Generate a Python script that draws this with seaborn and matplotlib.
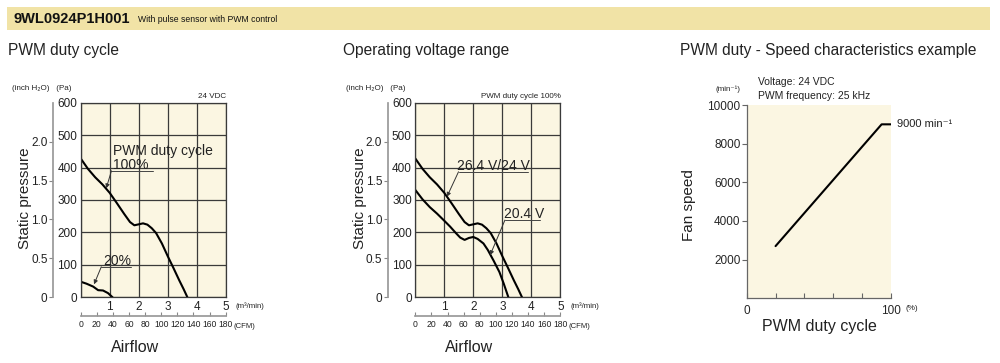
import matplotlib
matplotlib.use("Agg")
import matplotlib.pyplot as plt
import pandas as pd
import seaborn as sns
from matplotlib import font_manager
from matplotlib.patches import Rectangle

# ---- data ----
FLOW_24V = [0, 0.25, 0.5, 0.75, 1.0, 1.25, 1.5, 1.7, 1.85, 2.0, 2.15, 2.3, 2.45, 2.6, 2.8, 3.0, 3.2, 3.4, 3.55, 3.68]
PA_24V = [428, 396, 370, 348, 322, 290, 257, 232, 222, 225, 228, 224, 213, 198, 166, 127, 90, 52, 25, 0]

FLOW_20PCT = [0, 0.2, 0.43, 0.6, 0.77, 0.94, 1.1]
PA_20PCT = [48, 42, 33, 22, 21, 13, 0]

FLOW_204V = [0, 0.25, 0.5, 0.75, 1.0, 1.2, 1.4, 1.55, 1.7, 1.85, 2.0, 2.15, 2.35, 2.5, 2.7, 2.9, 3.05, 3.21]
PA_204V = [331, 302, 278, 258, 236, 218, 198, 184, 177, 183, 186, 180, 166, 146, 113, 78, 42, 0]

DUTY = [20, 93.5, 100]
SPEED = [2700, 9000, 9000]

PA_TICKS = [0, 100, 200, 300, 400, 500, 600]
FLOW_TICKS = [0, 1, 2, 3, 4, 5]
CFM_TICKS = [0, 20, 40, 60, 80, 100, 120, 140, 160, 180]
INCH_TICKS = [0, 0.5, 1.0, 1.5, 2.0]
INCH_LABELS = ["0", "0.5", "1.0", "1.5", "2.0"]
SPEED_TICKS = [2000, 4000, 6000, 8000, 10000]

PA_PER_INCH = 240
CFM_PER_M3 = 36

W, H = 1000, 363
CREAM = "#FBF6E2"
BANNER = "#F1E3A6"
GRID = "#3a3a3a"

sns.set_theme(style="white")
names = {f.name for f in font_manager.fontManager.ttflist}
NUM = "Liberation Sans Narrow" if "Liberation Sans Narrow" in names else "Liberation Sans"
plt.rcParams["font.family"] = ["Liberation Sans", "DejaVu Sans"]


def px_axes(fig, x0, y0, x1, y1):
    return fig.add_axes([x0 / W, 1 - y1 / H, (x1 - x0) / W, (y1 - y0) / H])


def ftext(fig, x, y, s, **kw):
    kw.setdefault("va", "center")
    kw.setdefault("color", "#222222")
    return fig.text(x / W, 1 - y / H, s, **kw)


def leader(ax, tip, elbow, end):
    ax.plot([elbow[0], end], [elbow[1], elbow[1]], color="#444444", lw=0.7)
    ax.annotate("", xy=tip, xytext=elbow,
                arrowprops=dict(arrowstyle="-|>", color="#333333", lw=0.7,
                                mutation_scale=6, shrinkA=0, shrinkB=0))


def pq_axes(fig, x0, label_x):
    ax = px_axes(fig, x0, 102.7, x0 + 145, 297.3)
    ax.set_facecolor(CREAM)
    ax.set_xlim(0, 5)
    ax.set_ylim(0, 600)
    ax.set_xticks(FLOW_TICKS)
    ax.set_xticklabels([""] + [str(t) for t in FLOW_TICKS[1:]], fontfamily=NUM, fontsize=8.5)
    ax.set_yticks(PA_TICKS)
    ax.set_yticklabels([str(t) for t in PA_TICKS], fontfamily=NUM, fontsize=8.5)
    ax.tick_params(length=0, pad=2.5, colors="#222222")
    ax.grid(True, color=GRID, lw=0.9)
    for sp in ax.spines.values():
        sp.set_color(GRID)
        sp.set_linewidth(0.9)

    inch = ax.secondary_yaxis(-0.19, functions=(lambda p: p / PA_PER_INCH, lambda i: i * PA_PER_INCH))
    inch.set_yticks(INCH_TICKS)
    inch.set_yticklabels(INCH_LABELS, fontfamily=NUM, fontsize=8.5)
    inch.spines["left"].set_color("#999999")
    inch.tick_params(length=3, width=0.8, color="#888888", pad=1, labelcolor="#222222")

    cfm = ax.secondary_xaxis(-0.096, functions=(lambda m: m * CFM_PER_M3, lambda c: c / CFM_PER_M3))
    cfm.set_xticks(CFM_TICKS)
    cfm.set_xticklabels([str(t) for t in CFM_TICKS], fontfamily=NUM, fontsize=6.2)
    cfm.spines["bottom"].set_color("#999999")
    cfm.tick_params(direction="in", length=3, width=0.8, color="#888888", pad=3, labelcolor="#222222")

    ftext(fig, x0 - 69, 88, "(inch H\u2082O)   (Pa)", fontsize=5.8, family=["Liberation Sans", "DejaVu Sans"])
    ftext(fig, x0 + 155, 306, "(m\u00b3/min)", fontsize=5.6, ha="left")
    ftext(fig, x0 + 153, 326, "(CFM)", fontsize=5.6, ha="left")
    ftext(fig, label_x, 198, "Static pressure", fontsize=11, rotation=90, ha="center")
    ftext(fig, x0 + 54, 347, "Airflow", fontsize=11.5, ha="center")
    return ax


def main() -> None:
    fig = plt.figure(figsize=(W / 100, H / 100), dpi=100)
    fig.patch.set_facecolor("white")

    fig.add_artist(Rectangle((7 / W, 1 - 30 / H), 983 / W, 23 / H, transform=fig.transFigure,
                             facecolor=BANNER, edgecolor="none"))
    ftext(fig, 13, 19, "9WL0924P1H001", fontsize=10.5, fontweight="bold", color="#111111")
    ftext(fig, 138, 20, "With pulse sensor with PWM control", fontsize=6.2, color="#111111")

    ftext(fig, 8, 50, "PWM duty cycle", fontsize=11.2)
    ftext(fig, 343, 50, "Operating voltage range", fontsize=11.2)
    ftext(fig, 680, 50, "PWM duty - Speed characteristics example", fontsize=11.2)

    # left: PWM duty cycle
    ax1 = pq_axes(fig, 80.7, 25)
    df100 = pd.DataFrame({"flow": FLOW_24V, "pa": PA_24V})
    df20 = pd.DataFrame({"flow": FLOW_20PCT, "pa": PA_20PCT})
    sns.lineplot(data=df100, x="flow", y="pa", ax=ax1, color="black", lw=1.5, sort=False, estimator=None)
    sns.lineplot(data=df20, x="flow", y="pa", ax=ax1, color="black", lw=1.5, sort=False, estimator=None)
    ax1.set_xlabel("")
    ax1.set_ylabel("")
    ax1.text(1.11, 438, "PWM duty cycle", fontsize=10, va="baseline", color="#222222")
    ax1.text(1.11, 395, "100%", fontsize=10, va="baseline", color="#222222")
    leader(ax1, (0.88, 336), (1.06, 390), 2.49)
    ax1.text(0.77, 99, "20%", fontsize=10, va="baseline", color="#222222")
    leader(ax1, (0.46, 40), (0.71, 94), 1.75)
    ftext(fig, 226, 97, "24 VDC", fontsize=5.8, ha="right")

    # middle: operating voltage range
    ax2 = pq_axes(fig, 415.3, 360)
    df204 = pd.DataFrame({"flow": FLOW_204V, "pa": PA_204V})
    sns.lineplot(data=df100, x="flow", y="pa", ax=ax2, color="black", lw=1.5, sort=False, estimator=None)
    sns.lineplot(data=df204, x="flow", y="pa", ax=ax2, color="black", lw=1.5, sort=False, estimator=None)
    ax2.set_xlabel("")
    ax2.set_ylabel("")
    ax2.text(1.45, 392, "26.4 V/24 V", fontsize=10, va="baseline", color="#222222")
    leader(ax2, (1.09, 310), (1.49, 387), 3.9)
    ax2.text(3.06, 243, "20.4 V", fontsize=10, va="baseline", color="#222222")
    leader(ax2, (2.58, 130), (3.09, 238), 4.3)
    ftext(fig, 561, 97, "PWM duty cycle 100%", fontsize=5.8, ha="right")

    # right: duty - speed
    ax3 = px_axes(fig, 746.7, 105, 891, 298.3)
    ax3.set_facecolor(CREAM)
    dfs = pd.DataFrame({"duty": DUTY, "speed": SPEED})
    sns.lineplot(data=dfs, x="duty", y="speed", ax=ax3, color="black", lw=1.5, sort=False, estimator=None)
    ax3.set_xlabel("")
    ax3.set_ylabel("")
    ax3.set_xlim(0, 100)
    ax3.set_ylim(0, 10000)
    ax3.set_yticks(SPEED_TICKS)
    ax3.set_yticklabels([str(t) for t in SPEED_TICKS], fontfamily=NUM, fontsize=8.5)
    ax3.set_xticks([0, 20, 40, 60, 80, 100])
    ax3.set_xticklabels(["0", "", "", "", "", "100"], fontfamily=NUM, fontsize=8.5)
    ax3.tick_params(axis="y", direction="out", length=3.5, width=0.8, color="#666666", pad=1, left=True)
    ax3.tick_params(axis="x", direction="in", length=3.5, width=0.8, color="#666666", pad=5, bottom=True)
    for side in ("top", "right"):
        ax3.spines[side].set_visible(False)
    for side in ("left", "bottom"):
        ax3.spines[side].set_color("#666666")
        ax3.spines[side].set_linewidth(0.9)
    ax3.text(104, 9000, "9000 min\u207b\u00b9", fontsize=8, va="center", clip_on=False,
             family=[NUM, "DejaVu Sans"], color="#222222")
    ftext(fig, 906, 309, "(%)", fontsize=5.8, ha="left")
    ftext(fig, 716, 89, "(min\u207b\u00b9)", fontsize=5.8, ha="left", family=["Liberation Sans", "DejaVu Sans"])
    ftext(fig, 758, 82, "Voltage: 24 VDC", fontsize=7.5, ha="left")
    ftext(fig, 758, 96, "PWM frequency: 25 kHz", fontsize=7.5, ha="left")
    ftext(fig, 689, 205, "Fan speed", fontsize=11, rotation=90, ha="center")
    ftext(fig, 819, 326, "PWM duty cycle", fontsize=11.5, ha="center")

    fig.savefig("out.png", dpi=100)
    plt.close(fig)


if __name__ == "__main__":
    main()
